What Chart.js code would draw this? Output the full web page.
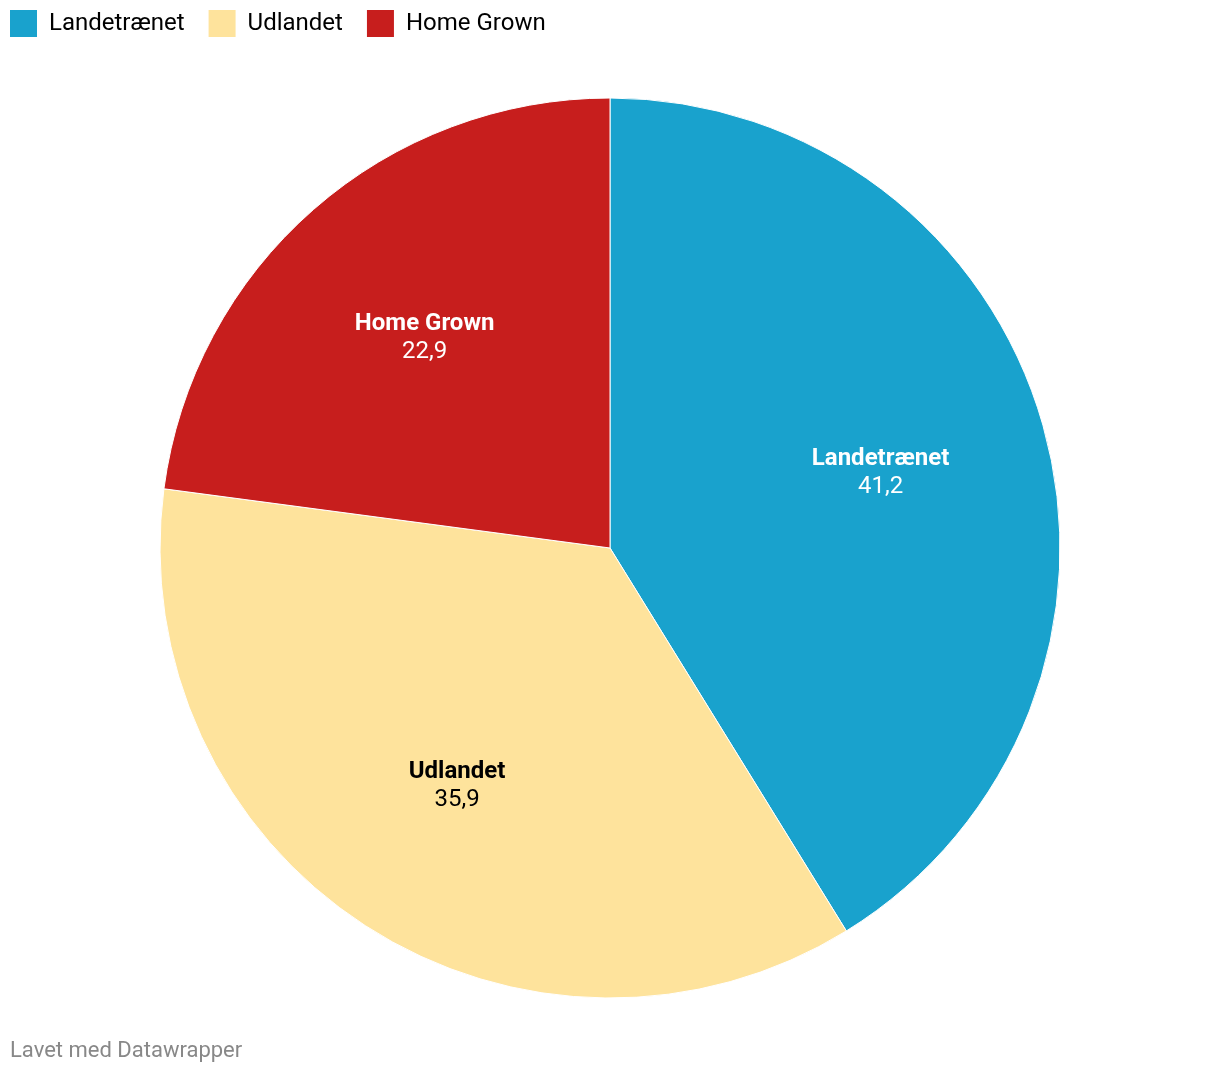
<!DOCTYPE html>
<html>
<head>
<meta charset="utf-8">
<script src="https://cdn.jsdelivr.net/npm/chart.js@4/dist/chart.umd.min.js"></script>
<style>
  html, body { margin: 0; padding: 0; background: #ffffff; width: 1220px; height: 1074px; overflow: hidden; }
  #wrap { position: absolute; left: -14px; top: -14px; width: 1248px; height: 1063px; }
  #footer { position: absolute; left: 10px; top: 1037px; font-family: Roboto, sans-serif; font-size: 22px; color: #888888; z-index: 2; }
</style>
</head>
<body>
<div id="wrap"><canvas id="c"></canvas></div>
<div id="footer">Lavet med Datawrapper</div>
<script>
const categories = ["Landetrænet", "Udlandet", "Home Grown"];
const values = [41.2, 35.9, 22.9];
const colors = ["#19a2cd", "#fee39c", "#c71e1d"];
const labelColors = ["#ffffff", "#000000", "#ffffff"];

const sliceLabels = {
  id: 'sliceLabels',
  afterDatasetsDraw(chart) {
    const ctx = chart.ctx;
    const meta = chart.getDatasetMeta(0);
    meta.data.forEach((arc, i) => {
      const p = arc.getProps(['x', 'y', 'startAngle', 'endAngle', 'outerRadius'], true);
      const mid = (p.startAngle + p.endAngle) / 2;
      const r = p.outerRadius * 0.625;
      const x = p.x + Math.cos(mid) * r;
      const y = p.y + Math.sin(mid) * r;
      ctx.save();
      ctx.textAlign = 'center';
      ctx.textBaseline = 'middle';
      ctx.fillStyle = labelColors[i];
      ctx.font = 'bold 24px Roboto';
      ctx.fillText(categories[i], x, y - 12);
      ctx.font = '24px Roboto';
      ctx.fillText(String(values[i]).replace('.', ','), x, y + 16);
      ctx.restore();
    });
  }
};

new Chart(document.getElementById('c'), {
  type: 'pie',
  data: {
    labels: categories,
    datasets: [{
      data: values,
      backgroundColor: colors,
      borderColor: '#ffffff',
      borderWidth: 1
    }]
  },
  options: {
    responsive: true,
    maintainAspectRatio: false,
    animation: false,
    radius: 450,
    layout: { padding: 0 },
    plugins: {
      tooltip: { enabled: false },
      legend: {
        display: true,
        position: 'top',
        align: 'start',
        labels: {
          boxWidth: 27,
          boxHeight: 27,
          padding: 24,
          color: '#222222',
          font: { family: 'Roboto', size: 24 },
          generateLabels(chart) {
            return categories.map((t, i) => ({
              text: t,
              fillStyle: colors[i],
              strokeStyle: colors[i],
              lineWidth: 0,
              hidden: false,
              index: i
            }));
          }
        }
      }
    }
  },
  plugins: [sliceLabels]
});
</script>
</body>
</html>
